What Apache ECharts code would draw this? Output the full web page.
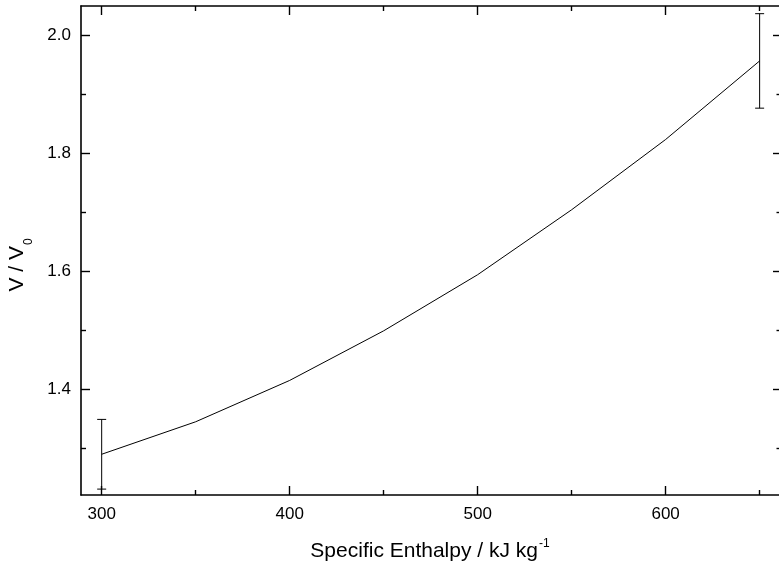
<!DOCTYPE html>
<html>
<head>
<meta charset="utf-8">
<script src="https://cdn.jsdelivr.net/npm/echarts@6/dist/echarts.min.js"></script>
<style>
  html, body { margin: 0; padding: 0; background: #ffffff; }
  #chart { width: 779px; height: 567px; }
</style>
</head>
<body>
<div id="chart"></div>
<script>
// Specific enthalpy (kJ/kg) and relative volume V/V0
const enthalpy = [300, 350, 400, 450, 500, 550, 600, 650];
const volumeRatio = [1.290, 1.345, 1.415, 1.499, 1.594, 1.704, 1.823, 1.956];

// Error bars at the two ends of the curve
const errorX = [300, 650];
const errorCenter = [1.290, 1.956];
const errorHalf = [0.059, 0.080];

// Tick positions
const xMajorTicks = [300, 400, 500, 600];
const xMinorTicks = [350, 450, 550, 650];
const yMajorTicks = [1.4, 1.6, 1.8, 2.0];
const yMinorTicks = [1.3, 1.5, 1.7, 1.9];

const X_MIN = 289.0, X_MAX = 660.3;
const Y_MIN = 1.221, Y_MAX = 2.049;

const FONT = 'Liberation Sans, Arial, sans-serif';
const INK = '#000000';

function xAxisDef(position, ticks, len, withLabels, withLine) {
  return {
    type: 'value', position: position, min: X_MIN, max: X_MAX,
    axisLine: { show: withLine, onZero: false, lineStyle: { color: INK, width: 1.6 } },
    axisTick: { show: true, inside: true, length: len, customValues: ticks,
                lineStyle: { color: INK, width: 1.4 } },
    axisLabel: withLabels
      ? { show: true, customValues: ticks, color: INK, fontSize: 17, fontFamily: FONT, margin: 11 }
      : { show: false },
    splitLine: { show: false }, minorTick: { show: false }
  };
}

function yAxisDef(position, ticks, len, withLabels, withLine) {
  return {
    type: 'value', position: position, min: Y_MIN, max: Y_MAX,
    axisLine: { show: withLine, onZero: false, lineStyle: { color: INK, width: 1.6 } },
    axisTick: { show: true, inside: true, length: len, customValues: ticks,
                lineStyle: { color: INK, width: 1.4 } },
    axisLabel: withLabels
      ? { show: true, customValues: ticks, color: INK, fontSize: 17, fontFamily: FONT, margin: 10,
          formatter: v => Number(v).toFixed(1) }
      : { show: false },
    splitLine: { show: false }, minorTick: { show: false }
  };
}

const chart = echarts.init(document.getElementById('chart'), null, { renderer: 'canvas' });

chart.setOption({
  animation: false,
  backgroundColor: '#ffffff',
  grid: { left: 81, right: 0, top: 6, bottom: 72, containLabel: false },
  xAxis: [
    xAxisDef('bottom', xMajorTicks, 9, true, true),
    xAxisDef('bottom', xMinorTicks, 5, false, false),
    xAxisDef('top', xMajorTicks, 9, false, true),
    xAxisDef('top', xMinorTicks, 5, false, false)
  ],
  yAxis: [
    yAxisDef('left', yMajorTicks, 9, true, true),
    yAxisDef('left', yMinorTicks, 5, false, false),
    yAxisDef('right', yMajorTicks, 6, false, false),
    yAxisDef('right', yMinorTicks, 2.5, false, false)
  ],
  graphic: [
    {
      type: 'text', x: 430, y: 551, z: 10,
      style: {
        text: 'Specific Enthalpy / kJ kg{sup|-1}',
        fill: INK, fontSize: 21, fontFamily: FONT, lineHeight: 26,
        align: 'center', verticalAlign: 'middle',
        rich: { sup: { fontSize: 12, lineHeight: 12, fontFamily: FONT, fill: INK, verticalAlign: 'top', padding: [0, 0, 0, 1] } }
      }
    },
    {
      type: 'text', x: 17.5, y: 265, rotation: Math.PI / 2, z: 10,
      style: {
        text: 'V / V{sub|0}',
        fill: INK, fontSize: 21, fontFamily: FONT, lineHeight: 34,
        align: 'center', verticalAlign: 'middle',
        rich: { sub: { fontSize: 12, lineHeight: 12, fontFamily: FONT, fill: INK, verticalAlign: 'bottom', padding: [0, 0, 0, 1] } }
      }
    }
  ],
  series: [
    {
      type: 'line', xAxisIndex: 0, yAxisIndex: 0,
      data: enthalpy.map((x, i) => [x, volumeRatio[i]]),
      showSymbol: false, symbol: 'none', smooth: false, clip: false,
      lineStyle: { color: INK, width: 1 }
    },
    {
      type: 'custom', xAxisIndex: 0, yAxisIndex: 0, clip: false,
      data: errorX.map((x, i) => [x, errorCenter[i] - errorHalf[i], errorCenter[i] + errorHalf[i]]),
      renderItem: function (params, api) {
        const lo = api.coord([api.value(0), api.value(1)]);
        const hi = api.coord([api.value(0), api.value(2)]);
        const w = 4.5;
        const st = { stroke: INK, lineWidth: 1 };
        return {
          type: 'group',
          children: [
            { type: 'line', shape: { x1: lo[0], y1: lo[1], x2: hi[0], y2: hi[1] }, style: st },
            { type: 'line', shape: { x1: lo[0] - w, y1: lo[1], x2: lo[0] + w, y2: lo[1] }, style: st },
            { type: 'line', shape: { x1: hi[0] - w, y1: hi[1], x2: hi[0] + w, y2: hi[1] }, style: st }
          ]
        };
      }
    }
  ]
});
</script>
</body>
</html>
